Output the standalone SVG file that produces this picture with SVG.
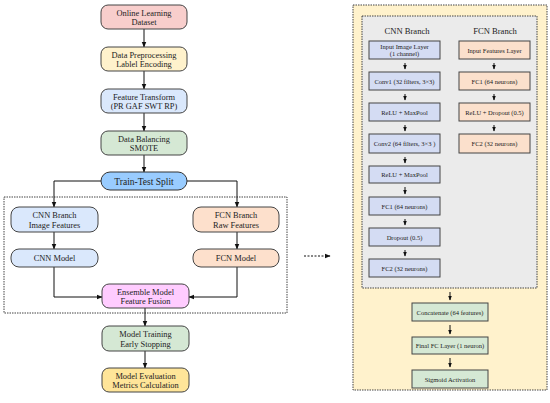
<svg xmlns="http://www.w3.org/2000/svg" width="550" height="403" viewBox="0 0 550 403">
<defs>
<marker id="ah" viewBox="0 0 10 10" refX="9" refY="5" markerWidth="6" markerHeight="6" orient="auto"><path d="M0,1 L10,5 L0,9 z" fill="#111"/></marker>
<marker id="ahs" viewBox="0 0 10 10" refX="9" refY="5" markerWidth="5" markerHeight="5" orient="auto"><path d="M0,1 L10,5 L0,9 z" fill="#111"/></marker>
<style>
text{font-family:"Liberation Serif","Times New Roman",serif;fill:#222;text-anchor:middle}
.t{font-size:8.4px}
.s{font-size:6.5px}
.h{font-size:8.6px}
.n{stroke:#444;stroke-width:1}
.c{fill:none;stroke:#111;stroke-width:1}
.d{fill:none;stroke:#444;stroke-width:1;stroke-dasharray:1.5,1}
</style>
</defs>
<rect width="550" height="403" fill="#fff"/>
<!-- containers -->
<rect x="4" y="197" width="283" height="116" class="d" fill="none"/>
<rect x="353" y="5" width="194" height="385" fill="#fff2cc" stroke="#444" stroke-dasharray="1.5,1"/>
<rect x="362" y="16" width="175" height="272" fill="#ebebeb" stroke="#444" stroke-dasharray="1.5,1"/>
<g id="connectors">
<line x1="144" y1="29" x2="144" y2="47" class="c" marker-end="url(#ah)"/>
<line x1="144" y1="71" x2="144" y2="89" class="c" marker-end="url(#ah)"/>
<line x1="144" y1="113" x2="144" y2="131" class="c" marker-end="url(#ah)"/>
<line x1="144" y1="155" x2="144" y2="172" class="c" marker-end="url(#ah)"/>
<polyline points="101,181 54,181 54,207" class="c" marker-end="url(#ah)"/>
<polyline points="187,181 237,181 237,207" class="c" marker-end="url(#ah)"/>
<line x1="54" y1="232" x2="54" y2="249" class="c" marker-end="url(#ah)"/>
<line x1="237" y1="232" x2="237" y2="249" class="c" marker-end="url(#ah)"/>
<polyline points="54,267 54,297 102,297" class="c" marker-end="url(#ah)"/>
<polyline points="237,267 237,297 189,297" class="c" marker-end="url(#ah)"/>
<line x1="145" y1="308" x2="145" y2="326" class="c" marker-end="url(#ah)"/>
<line x1="145" y1="351" x2="145" y2="368" class="c" marker-end="url(#ah)"/>
<line x1="304" y1="256" x2="330" y2="256" class="c" stroke-dasharray="2,1.5" marker-end="url(#ah)"/>
<line x1="405" y1="63" x2="405" y2="69" class="c" marker-end="url(#ahs)"/>
<line x1="405" y1="94" x2="405" y2="100" class="c" marker-end="url(#ahs)"/>
<line x1="405" y1="125" x2="405" y2="131" class="c" marker-end="url(#ahs)"/>
<line x1="405" y1="157" x2="405" y2="163" class="c" marker-end="url(#ahs)"/>
<line x1="405" y1="187" x2="405" y2="194" class="c" marker-end="url(#ahs)"/>
<line x1="405" y1="219" x2="405" y2="225" class="c" marker-end="url(#ahs)"/>
<line x1="405" y1="250" x2="405" y2="256" class="c" marker-end="url(#ahs)"/>
<line x1="494" y1="63" x2="494" y2="69" class="c" marker-end="url(#ahs)"/>
<line x1="494" y1="94" x2="494" y2="100" class="c" marker-end="url(#ahs)"/>
<line x1="494" y1="125" x2="494" y2="131" class="c" marker-end="url(#ahs)"/>
<line x1="450" y1="292" x2="450" y2="300" class="c" marker-end="url(#ahs)"/>
<line x1="450" y1="325" x2="450" y2="334" class="c" marker-end="url(#ahs)"/>
<line x1="450" y1="358" x2="450" y2="367" class="c" marker-end="url(#ahs)"/>
</g>
<!-- left flow -->
<g id="n-dataset"><rect x="101" y="5" width="86" height="24" rx="7" fill="#f8cecc" class="n"/><text class="t" x="144" y="15.5">Online Learning</text><text class="t" x="144" y="25">Dataset</text></g>
<g id="n-preproc"><rect x="101" y="47" width="86" height="24" rx="7" fill="#fff2cc" class="n"/><text class="t" x="144" y="57.5">Data Preprocessing</text><text class="t" x="144" y="67">Lablel Encoding</text></g>
<g id="n-transform"><rect x="101" y="89" width="86" height="24" rx="7" fill="#dae8fc" class="n"/><text class="t" x="144" y="99.5">Feature Transform</text><text class="t" x="144" y="109">(PR GAF SWT RP)</text></g>
<g id="n-balance"><rect x="101" y="131" width="86" height="24" rx="7" fill="#d5e8d4" class="n"/><text class="t" x="144" y="141.5">Data Balancing</text><text class="t" x="144" y="151">SMOTE</text></g>
<g id="n-split"><rect x="101" y="172" width="86" height="18" rx="9" fill="#99ccff" stroke="#333"/><text x="144" y="184.5" style="font-size:9.5px">Train-Test Split</text></g>
<g id="n-cnnbranch"><rect x="11" y="207" width="87" height="25" rx="8" fill="#dae8fc" class="n"/><text class="t" x="54.5" y="218">CNN Branch</text><text class="t" x="54.5" y="228">Image Features</text></g>
<g id="n-fcnbranch"><rect x="193" y="207" width="86" height="25" rx="8" fill="#fde0cc" class="n"/><text class="t" x="236" y="218">FCN Branch</text><text class="t" x="236" y="228">Raw Features</text></g>
<g id="n-cnnmodel"><rect x="11" y="249" width="87" height="18" rx="8" fill="#dae8fc" class="n"/><text class="t" x="54.5" y="261">CNN Model</text></g>
<g id="n-fcnmodel"><rect x="193" y="249" width="86" height="18" rx="8" fill="#fde0cc" class="n"/><text class="t" x="236" y="261">FCN Model</text></g>
<g id="n-ensemble"><rect x="102" y="284" width="87" height="24" rx="7" fill="#ffccff" class="n"/><text class="t" x="145.5" y="294.5">Ensemble Model</text><text class="t" x="145.5" y="304">Feature Fusion</text></g>
<g id="n-training"><rect x="102" y="326" width="87" height="25" rx="7" fill="#d5e8d4" class="n"/><text class="t" x="145.5" y="337">Model Training</text><text class="t" x="145.5" y="347">Early Stopping</text></g>
<g id="n-eval"><rect x="102" y="368" width="87" height="24" rx="7" fill="#ffe599" class="n"/><text class="t" x="145.5" y="378.5">Model Evaluation</text><text class="t" x="145.5" y="388">Metrics Calculation</text></g>
<!-- right panel -->
<g id="titles"><text class="h" x="407" y="34">CNN Branch</text><text class="h" x="495" y="34">FCN Branch</text></g>
<g id="r-input"><rect x="369" y="41" width="71" height="18" fill="#d4dcf3" class="n"/><text class="s" x="404.5" y="48.5">Input Image Layer</text><text class="s" x="404.5" y="56">(1 channel)</text></g>
<g id="r-conv1"><rect x="369" y="72" width="71" height="18" fill="#d4dcf3" class="n"/><text class="s" x="404.5" y="83.5">Conv1 (32 filters, 3×3)</text></g>
<g id="r-relu1"><rect x="369" y="103" width="71" height="18" fill="#d4dcf3" class="n"/><text class="s" x="404.5" y="114.5">ReLU + MaxPool</text></g>
<g id="r-conv2"><rect x="369" y="134" width="71" height="19" fill="#d4dcf3" class="n"/><text class="s" x="404.5" y="146">Conv2 (64 filters, 3×3 )</text></g>
<g id="r-relu2"><rect x="369" y="166" width="71" height="17" fill="#d4dcf3" class="n"/><text class="s" x="404.5" y="177">ReLU + MaxPool</text></g>
<g id="r-fc1"><rect x="369" y="197" width="71" height="18" fill="#d4dcf3" class="n"/><text class="s" x="404.5" y="208.5">FC1 (64 neurons)</text></g>
<g id="r-drop"><rect x="369" y="228" width="71" height="18" fill="#d4dcf3" class="n"/><text class="s" x="404.5" y="239.5">Dropout (0.5)</text></g>
<g id="r-fc2"><rect x="369" y="259" width="71" height="18" fill="#d4dcf3" class="n"/><text class="s" x="404.5" y="270.5">FC2 (32 neurons)</text></g>
<g id="r-finput"><rect x="459" y="41" width="71" height="18" fill="#fbe0cc" class="n"/><text class="s" x="494.5" y="52.5">Input Features Layer</text></g>
<g id="r-ffc1"><rect x="459" y="72" width="71" height="18" fill="#fbe0cc" class="n"/><text class="s" x="494.5" y="83.5">FC1 (64 neurons)</text></g>
<g id="r-frelu"><rect x="459" y="103" width="71" height="18" fill="#fbe0cc" class="n"/><text class="s" x="494.5" y="114.5">ReLU + Dropout (0.5)</text></g>
<g id="r-ffc2"><rect x="459" y="134" width="71" height="19" fill="#fbe0cc" class="n"/><text class="s" x="494.5" y="146">FC2 (32 neurons)</text></g>
<g id="r-concat"><rect x="412" y="303" width="76" height="18" fill="#d5e8d4" class="n"/><text class="s" x="450" y="314.5">Concatenate (64 features)</text></g>
<g id="r-final"><rect x="412" y="337" width="76" height="17" fill="#d5e8d4" class="n"/><text class="s" x="450" y="348">Final FC Layer (1 neuron)</text></g>
<g id="r-sigmoid"><rect x="412" y="370" width="76" height="18" fill="#d5e8d4" class="n"/><text class="s" x="450" y="381.5">Sigmoid Activation</text></g>
</svg>
